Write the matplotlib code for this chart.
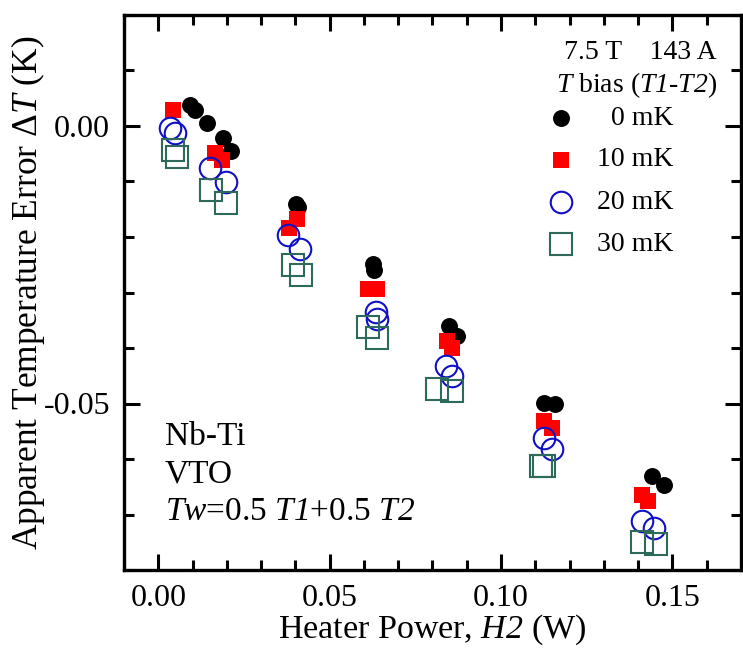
import matplotlib
matplotlib.use("Agg")
import matplotlib.pyplot as plt
from matplotlib.ticker import MultipleLocator

plt.rcParams['font.family'] = ['Liberation Serif', 'DejaVu Serif']
plt.rcParams['mathtext.fontset'] = 'custom'
plt.rcParams['mathtext.rm'] = 'Liberation Serif'
plt.rcParams['mathtext.it'] = 'Liberation Serif:italic'
# 'sf' slot used for fully italic runs (including digits)
plt.rcParams['mathtext.sf'] = 'Liberation Serif:italic'

# Data (heater power W, apparent temperature error K)
x_0mK = [0.0093, 0.0108, 0.0142, 0.0189, 0.0212, 0.0401, 0.0407, 0.0625, 0.0628,
         0.0849, 0.0872, 0.1125, 0.1157, 0.1439, 0.1474]
y_0mK = [0.0038, 0.0029, 0.0005, -0.0022, -0.0045, -0.0141, -0.0146, -0.0248, -0.0259,
         -0.0360, -0.0378, -0.0499, -0.0501, -0.0631, -0.0646]
x_10mK = [0.0044, 0.0166, 0.0186, 0.0381, 0.0404, 0.0613, 0.0637, 0.0843, 0.0858,
          0.1125, 0.1148, 0.1410, 0.1430]
y_10mK = [0.0029, -0.0049, -0.0061, -0.0183, -0.0168, -0.0293, -0.0293, -0.0387, -0.0400,
          -0.0532, -0.0544, -0.0664, -0.0675]
x_20mK = [0.0035, 0.0049, 0.0151, 0.0198, 0.0378, 0.0413, 0.0634, 0.0637, 0.0840, 0.0858,
          0.1125, 0.1148, 0.1410, 0.1445]
y_20mK = [-0.0004, -0.0013, -0.0076, -0.0101, -0.0197, -0.0221, -0.0335, -0.0347, -0.0432, -0.0450,
          -0.0562, -0.0582, -0.0712, -0.0725]
x_30mK = [0.0044, 0.0055, 0.0154, 0.0198, 0.0392, 0.0416, 0.0613, 0.0637, 0.0814, 0.0858,
          0.1116, 0.1125, 0.1410, 0.1453]
y_30mK = [-0.0043, -0.0056, -0.0116, -0.0139, -0.0251, -0.0268, -0.0363, -0.0382, -0.0474, -0.0477,
          -0.0613, -0.0613, -0.0749, -0.0754]

labels = ['0 mK', '10 mK', '20 mK', '30 mK']
x_ticks = [0.00, 0.05, 0.10, 0.15]
y_ticks = [-0.05, 0.00]

blue = '#1010c8'
green = '#2e6a5c'

fig = plt.figure(figsize=(7.43, 6.51), dpi=100)
ax = fig.add_axes([124/743, 1-570/651, 617/743, 555/651])

ax.plot(x_0mK, y_0mK, 'o', ms=12.2, color='black', mec='black', mew=0, ls='none')
ax.plot(x_10mK, y_10mK, 's', ms=12.2, color='red', mec='red', mew=0, ls='none')
ax.plot(x_20mK, y_20mK, 'o', ms=15.5, mfc='none', mec=blue, mew=1.5, ls='none')
ax.plot(x_30mK, y_30mK, 's', ms=15.5, mfc='none', mec=green, mew=1.5, ls='none')

ax.set_xlim(-0.01, 0.17)
ax.set_ylim(-0.08, 0.02)
ax.set_xticks(x_ticks)
ax.set_xticklabels([f'{v:.2f}' for v in x_ticks])
ax.set_yticks(y_ticks)
ax.set_yticklabels([f'{v:.2f}' for v in y_ticks])
ax.xaxis.set_minor_locator(MultipleLocator(0.01))
ax.yaxis.set_minor_locator(MultipleLocator(0.01))
ax.tick_params(which='both', direction='in', top=True, right=True, width=2.2, labelsize=23)
ax.tick_params(which='major', length=11.5, pad=10)
ax.tick_params(which='minor', length=7)
for s in ax.spines.values():
    s.set_linewidth(2.4)

ax.set_xlabel('Heater Power, $\\mathsf{H2}$ (W)', fontsize=24.5, labelpad=0)
ax.set_ylabel('Apparent Temperature Error Δ$\\mathsf{T}$ (K)', fontsize=25.5, va='center')
ax.yaxis.set_label_coords(-0.156, 0.5)

# Legend (manual)
tr = ax.transAxes
ax.text(0.961, 0.933, '7.5 T    143 A', transform=tr, ha='right', va='center', fontsize=20)
ax.text(0.961, 0.874, '$\\mathsf{T}$ bias ($\\mathsf{T1}$-$\\mathsf{T2}$)', transform=tr,
        ha='right', va='center', fontsize=20)
leg_y = [0.814, 0.739, 0.663, 0.587]
styles = [dict(marker='o', ms=12.2, color='black', mew=0),
          dict(marker='s', ms=12.2, color='red', mew=0),
          dict(marker='o', ms=15.5, mfc='none', mec=blue, mew=1.5),
          dict(marker='s', ms=15.5, mfc='none', mec=green, mew=1.5)]
for yy, lab, st in zip(leg_y, labels, styles):
    ax.plot([0.708], [yy], transform=tr, ls='none', clip_on=False, **st)
    ax.text(0.890, yy, lab, transform=tr, ha='right', va='center', fontsize=20)

ax.text(0.066, 0.240, 'Nb-Ti', transform=tr, ha='left', va='center', fontsize=24)
ax.text(0.066, 0.173, 'VTO', transform=tr, ha='left', va='center', fontsize=24)
ax.text(0.066, 0.105, '$\\mathsf{Tw}$=0.5 $\\mathsf{T1}$+0.5 $\\mathsf{T2}$', transform=tr,
        ha='left', va='center', fontsize=24)

fig.savefig('out.png', dpi=100)
